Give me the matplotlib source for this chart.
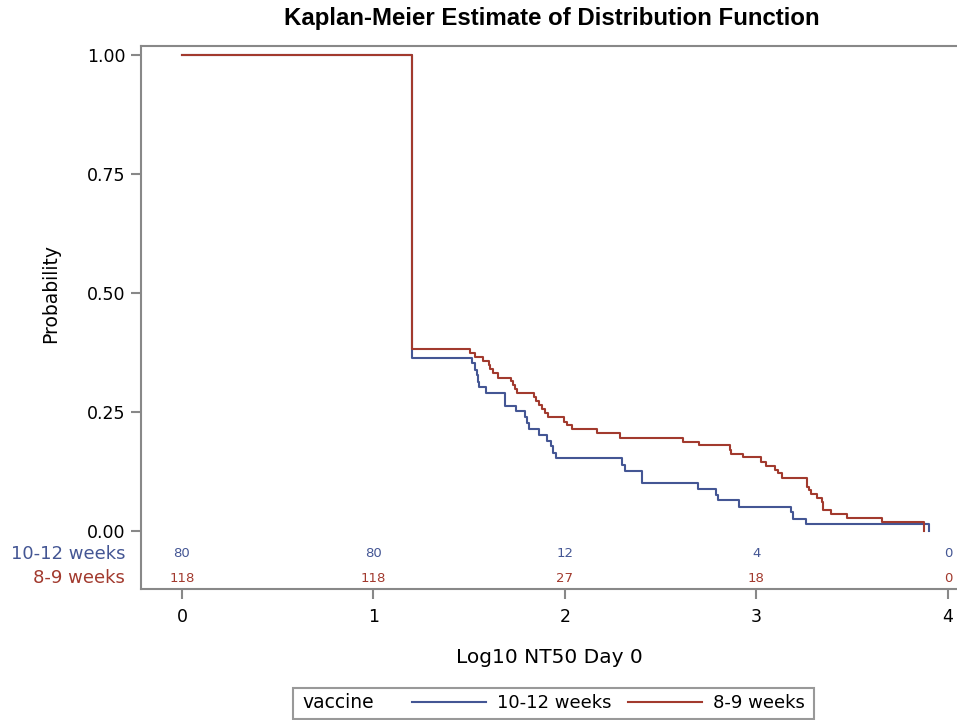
import numpy             as np
import matplotlib
matplotlib.use("Agg")
import matplotlib.pyplot as plt
from matplotlib.lines   import Line2D
from matplotlib.patches import Rectangle

plt.rcParams['font.family'] = ['DejaVu Sans']

BLUE = '#445694'
RED  = '#A23A2E'
GREY = '#888888'

# Kaplan-Meier step curves (x = log10 NT50, y = probability after the step)
blue_x = [0, 1.203, 1.516, 1.528, 1.539, 1.546, 1.551, 1.586, 1.688, 1.743, 1.790,
          1.803, 1.810, 1.862, 1.904, 1.925, 1.935, 1.952, 2.300, 2.315, 2.402,
          2.693, 2.787, 2.801, 2.907, 3.179, 3.193, 3.258, 3.902]
blue_y = [1.0, 0.363, 0.352, 0.338, 0.328, 0.314, 0.302, 0.289, 0.263, 0.253, 0.239,
          0.228, 0.214, 0.202, 0.189, 0.179, 0.164, 0.153, 0.139, 0.127, 0.100,
          0.089, 0.076, 0.065, 0.050, 0.039, 0.026, 0.015, 0.0]

red_x = [0, 1.203, 1.504, 1.528, 1.573, 1.601, 1.608, 1.626, 1.652, 1.716, 1.730,
         1.737, 1.747, 1.838, 1.849, 1.863, 1.878, 1.897, 1.911, 1.995, 2.012,
         2.038, 2.165, 2.287, 2.618, 2.700, 2.863, 2.869, 2.928, 3.026, 3.050,
         3.098, 3.114, 3.133, 3.262, 3.272, 3.284, 3.317, 3.342, 3.345, 3.387,
         3.471, 3.654, 3.876]
red_y = [1.0, 0.383, 0.375, 0.366, 0.357, 0.349, 0.341, 0.332, 0.322, 0.315, 0.307,
         0.298, 0.289, 0.282, 0.274, 0.264, 0.256, 0.247, 0.239, 0.230, 0.223,
         0.214, 0.205, 0.196, 0.188, 0.180, 0.170, 0.162, 0.155, 0.145, 0.137,
         0.128, 0.121, 0.112, 0.093, 0.086, 0.078, 0.069, 0.061, 0.044, 0.035,
         0.027, 0.018, 0.0]

# numbers at risk
risk_x    = [0, 1, 2, 3, 4]
risk_blue = [80, 80, 12, 4, 0]
risk_red  = [118, 118, 27, 18, 0]

groups  = ['10-12 weeks', '8-9 weeks']
colors  = [BLUE, RED]
x_ticks = [0, 1, 2, 3, 4]
y_ticks = [0.0, 0.25, 0.5, 0.75, 1.0]

fig = plt.figure(figsize = (9.57, 7.2), dpi = 100)
ax  = fig.add_axes([141 / 957, 1 - 589 / 720, 816 / 957, 543 / 720])

ax.step(blue_x, blue_y, where = 'post', color = BLUE, lw = 1.5)
ax.step(red_x,  red_y,  where = 'post', color = RED,  lw = 1.5)

# at-risk table inside the axes
for xv, nb, nr in zip(risk_x, risk_blue, risk_red):
  ax.text(xv, -0.048, str(nb), color = BLUE, fontsize = 9.5, ha = 'center', va = 'center')
  ax.text(xv, -0.099, str(nr), color = RED,  fontsize = 9.5, ha = 'center', va = 'center')

ax.text(-0.0196, -0.048, groups[0], color = BLUE, fontsize = 13, ha = 'right', va = 'center',
        transform = ax.get_yaxis_transform())
ax.text(-0.0196, -0.099, groups[1], color = RED, fontsize = 13, ha = 'right', va = 'center',
        transform = ax.get_yaxis_transform())

ax.set_xlim(-0.214, 4.047)
ax.set_ylim(-0.1218, 1.019)
ax.set_xticks(x_ticks)
ax.set_yticks(y_ticks)
ax.set_yticklabels(['%.2f' % v for v in y_ticks])

for side in ['left', 'bottom', 'top']:
  ax.spines[side].set_color(GREY)
  ax.spines[side].set_linewidth(1.5)
ax.spines['right'].set_visible(False)

ax.tick_params(axis = 'both', colors = GREY, length = 7, width = 1.5, labelsize = 12.5,
               labelcolor = 'black')
ax.tick_params(axis = 'y', pad = 4)
ax.tick_params(axis = 'x', pad = 7)

ax.set_xlabel('Log10 NT50 Day 0', fontsize = 14.5)
ax.xaxis.set_label_coords(0.5, -0.108)
ax.set_ylabel('Probability', fontsize = 13.5)
ax.yaxis.set_label_coords(-0.099, 0.545)

fig.text(552 / 957, 1 - 19 / 720, 'Kaplan-Meier Estimate of Distribution Function',
         fontsize = 17.3, fontweight = 'bold', family = 'Liberation Sans',
         ha = 'center', va = 'center')

# legend box at the bottom
fig.patches.append(Rectangle((293 / 957, 1 - 719 / 720), 521 / 957, 31 / 720,
                             transform = fig.transFigure, fill = False,
                             edgecolor = '#999999', lw = 1.5))
fig.text(302 / 957, 1 - 703 / 720, 'vaccine', fontsize = 13.5, ha = 'left', va = 'center')

handles = [Line2D([], [], color = c, lw = 1.5) for c in colors]
fig.legend(handles, groups, ncol = 2, frameon = False, fontsize = 13,
           loc = 'center left', bbox_to_anchor = (405 / 957, 1 - 703 / 720),
           handlelength = 4.1, handletextpad = 0.6, columnspacing = 0.9,
           borderpad = 0.4, borderaxespad = 0)

fig.savefig('out.png', dpi = 100)
